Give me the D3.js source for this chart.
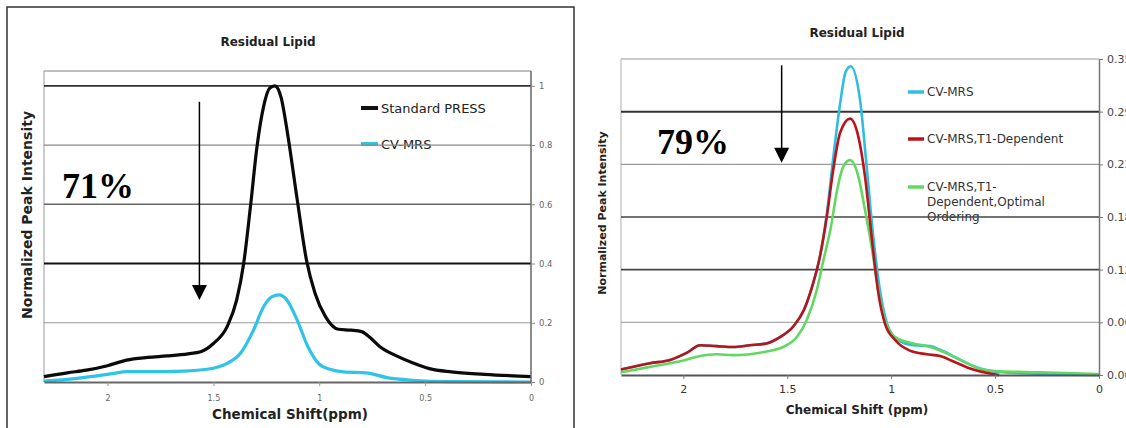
<!DOCTYPE html>
<html>
<head>
<meta charset="utf-8">
<script src="https://cdn.jsdelivr.net/npm/d3@7"></script>
<style>
  body { margin: 0; background: #fff; }
  svg { display: block; }
  text { font-family: "DejaVu Sans", Verdana, sans-serif; }
</style>
</head>
<body>
<svg id="charts" width="1126" height="428"></svg>
<script>
/* ---- left panel data (normalized) ---- */
const pressPpm = [2.30, 2.19, 2.10, 2.00, 1.91, 1.81, 1.72, 1.62, 1.56, 1.50, 1.435, 1.39, 1.357, 1.325, 1.294, 1.263, 1.234, 1.21,
                  1.18, 1.15, 1.105, 1.06, 1.02, 0.97, 0.91, 0.85, 0.80, 0.76, 0.715, 0.65, 0.56, 0.48, 0.376, 0.22, 0.0];
const pressVal = [0.018, 0.031, 0.040, 0.055, 0.074, 0.083, 0.088, 0.095, 0.102, 0.130, 0.187, 0.277, 0.40, 0.592, 0.795, 0.93, 0.992, 1.0,
                  0.96, 0.84, 0.62, 0.41, 0.30, 0.22, 0.178, 0.175, 0.170, 0.150, 0.12, 0.093, 0.065, 0.045, 0.034, 0.026, 0.018];

const cvPpmL = [2.30, 2.19, 2.06, 1.97, 1.91, 1.80, 1.64, 1.53, 1.435, 1.372, 1.31, 1.263, 1.223, 1.19,
                1.156, 1.105, 1.054, 1.0, 0.95, 0.885, 0.78, 0.68, 0.56, 0.39, 0.0];
const cvValL = [0.003, 0.009, 0.020, 0.029, 0.035, 0.035, 0.037, 0.043, 0.063, 0.097, 0.176, 0.254, 0.288, 0.294,
                0.280, 0.210, 0.120, 0.060, 0.043, 0.034, 0.031, 0.015, 0.006, 0.001, 0.0];

const yTicksL = [0, 0.2, 0.4, 0.6, 0.8, 1];
const yLabelsL = ["0", "0.2", "0.4", "0.6", "0.8", "1"];

/* ---- shared x ticks ---- */
const xTicks = [2, 1.5, 1, 0.5, 0];
const xLabels = ["2", "1.5", "1", "0.5", "0"];

/* ---- right panel data ---- */
const cvPpmR = [2.30, 2.16, 2.06, 1.98, 1.92, 1.84, 1.76, 1.68, 1.60, 1.535, 1.47, 1.42, 1.375, 1.343, 1.31, 1.279, 1.246, 1.22, 1.195,
                1.15, 1.118, 1.086, 1.054, 1.02, 0.974, 0.894, 0.813, 0.765, 0.685, 0.605, 0.509, 0.365, 0.0];
const cvValR = [0.006, 0.013, 0.017, 0.025, 0.033, 0.032, 0.031, 0.033, 0.035, 0.042, 0.054, 0.072, 0.102, 0.131, 0.178, 0.240, 0.300, 0.335, 0.342,
                0.305, 0.231, 0.153, 0.094, 0.057, 0.040, 0.033, 0.032, 0.028, 0.019, 0.010, 0.004, 0.002, 0.0];

const t1PpmR = [2.30, 2.16, 2.06, 1.98, 1.92, 1.84, 1.76, 1.68, 1.60, 1.535, 1.47, 1.42, 1.375, 1.343, 1.31, 1.279, 1.246, 1.198,
                1.158, 1.126, 1.094, 1.062, 1.03, 0.982, 0.91, 0.83, 0.765, 0.70, 0.605, 0.509, 0.48];
const t1ValR = [0.006, 0.013, 0.017, 0.025, 0.033, 0.032, 0.031, 0.033, 0.035, 0.042, 0.054, 0.072, 0.102, 0.131, 0.175, 0.227, 0.268, 0.284,
                0.264, 0.220, 0.153, 0.091, 0.057, 0.039, 0.027, 0.023, 0.021, 0.015, 0.006, 0.001, 0.0];

const optPpmR = [2.30, 2.16, 2.00, 1.92, 1.84, 1.76, 1.68, 1.60, 1.52, 1.454, 1.406, 1.358, 1.326, 1.29, 1.26, 1.23, 1.198,
                 1.158, 1.126, 1.094, 1.062, 1.03, 0.982, 0.894, 0.813, 0.733, 0.653, 0.573, 0.476, 0.284, 0.0];
const optValR = [0.003, 0.009, 0.016, 0.021, 0.023, 0.022, 0.023, 0.026, 0.031, 0.042, 0.061, 0.094, 0.127, 0.164, 0.205, 0.231, 0.238,
                 0.220, 0.183, 0.142, 0.094, 0.061, 0.042, 0.035, 0.031, 0.024, 0.015, 0.007, 0.004, 0.003, 0.001];

const yTicksR = [0, 0.0583, 0.1167, 0.175, 0.2333, 0.2917, 0.35];
const yLabelsR = ["0.00", "0.06", "0.12", "0.18", "0.23", "0.29", "0.35"];

const svg = d3.select("#charts");

function pairs(ppm, vals) {
    return ppm.map((p, i) => [p, vals[i]]);
}

function createLeftChart() {
    let g = svg.append("g").attr("id", "left");

    /* outer border */
    g.append("path")
        .attr("d", "M7,430 L7,7 L574,7 L574,430")
        .attr("fill", "none")
        .attr("stroke", "#333")
        .attr("stroke-width", 1.5);

    let xScale = d3.scaleLinear().domain([2.3, 0]).range([44, 531]);
    let yScale = d3.scaleLinear().domain([0, 1.05]).range([382, 71]);

    g.append("text")
        .attr("x", 268).attr("y", 42)
        .attr("text-anchor", "middle").attr("dy", "0.35em")
        .style("font-size", "12px").style("font-weight", "bold").style("fill", "#222")
        .text("Residual Lipid");

    /* legend first so grid runs over it, like the original */
    let legend = [["Standard PRESS", "#111"], ["CV-MRS", "#2fc3e6"]];
    legend.forEach((d, i) => {
        let ly = 108 + i * 36;
        g.append("line").attr("x1", 361).attr("x2", 378).attr("y1", ly).attr("y2", ly)
            .attr("stroke", d[1]).attr("stroke-width", 4);
        g.append("text").attr("x", 381).attr("y", ly).attr("dy", "0.35em")
            .style("font-size", "13px").style("fill", "#222").text(d[0]);
    });

    /* frame */
    g.append("line")
        .attr("x1", xScale(2.3)).attr("x2", xScale(0))
        .attr("y1", yScale(1.05)).attr("y2", yScale(1.05))
        .attr("stroke", "#aaa").attr("stroke-width", 1.5);
    g.append("line")
        .attr("x1", xScale(2.3)).attr("x2", xScale(2.3))
        .attr("y1", yScale(1.05)).attr("y2", yScale(0))
        .attr("stroke", "#aaa").attr("stroke-width", 1.2);

    /* grid */
    let gridColor = ["none", "#999", "#111", "#666", "#888", "#333"];
    let gridWidth = [0, 1.2, 2, 1.5, 1.2, 1.8];
    g.append("g").selectAll("line")
        .data(yTicksL)
        .join("line")
        .attr("x1", xScale(2.3)).attr("x2", xScale(0))
        .attr("y1", d => yScale(d)).attr("y2", d => yScale(d))
        .attr("stroke", (d, i) => gridColor[i])
        .attr("stroke-width", (d, i) => gridWidth[i]);

    /* curves */
    let line = d3.line()
        .x(d => xScale(d[0]))
        .y(d => yScale(d[1]))
        .curve(d3.curveMonotoneX);

    g.append("path").datum(pairs(cvPpmL, cvValL))
        .attr("d", line).attr("fill", "none")
        .attr("stroke", "#2fc3e6").attr("stroke-width", 3.2);
    g.append("path").datum(pairs(pressPpm, pressVal))
        .attr("d", line).attr("fill", "none")
        .attr("stroke", "#0a0a0a").attr("stroke-width", 3.2);

    /* axes */
    let axisY = g.append("g")
        .attr("transform", "translate(" + xScale(0) + ",0)")
        .call(d3.axisRight(yScale).tickValues(yTicksL).tickFormat((d, i) => yLabelsL[i])
            .tickSize(4).tickSizeOuter(0).tickPadding(4));
    axisY.select(".domain").attr("stroke", "#666").attr("stroke-width", 1.5)
        .attr("d", "M0," + yScale(1.05) + "V" + yScale(0));
    axisY.selectAll(".tick line").attr("stroke", "#888");
    axisY.selectAll("text").style("font-size", "8.5px").style("fill", "#666");

    let axisX = g.append("g")
        .attr("transform", "translate(0," + yScale(0) + ")")
        .call(d3.axisBottom(xScale).tickValues(xTicks).tickFormat((d, i) => xLabels[i])
            .tickSize(4).tickSizeOuter(0).tickPadding(9));
    axisX.select(".domain").attr("stroke", "#666").attr("stroke-width", 2);
    axisX.selectAll(".tick line").attr("stroke", "#999");
    axisX.selectAll("text").style("font-size", "8px").style("fill", "#666");

    g.append("text")
        .attr("x", 290).attr("y", 414).attr("dy", "0.35em")
        .attr("text-anchor", "middle")
        .style("font-size", "13.5px").style("font-weight", "bold").style("fill", "#222")
        .text("Chemical Shift(ppm)");

    g.append("text")
        .attr("transform", "translate(27,215) rotate(-90)")
        .attr("text-anchor", "middle").attr("dy", "0.35em")
        .style("font-size", "14px").style("font-weight", "bold").style("fill", "#222")
        .text("Normalized Peak Intensity");

    /* annotation */
    g.append("text")
        .attr("x", 62).attr("y", 198)
        .style("font-family", "'Liberation Serif', 'Times New Roman', serif")
        .style("font-size", "36px").style("font-weight", "bold").style("fill", "#000")
        .text("71%");
    drawArrow(g, xScale(1.566), yScale(0.946), yScale(0.277));
}

function drawArrow(g, x, yTop, yTip) {
    g.append("line")
        .attr("x1", x).attr("x2", x).attr("y1", yTop).attr("y2", yTip - 12)
        .attr("stroke", "#000").attr("stroke-width", 1.5);
    g.append("path")
        .attr("d", "M" + (x - 7.5) + "," + (yTip - 15) + " L" + (x + 7.5) + "," + (yTip - 15) + " L" + x + "," + yTip + " Z")
        .attr("fill", "#000");
}

function createRightChart() {
    let g = svg.append("g").attr("id", "right");

    let xScale = d3.scaleLinear().domain([2.3, 0]).range([621, 1099]);
    let yScale = d3.scaleLinear().domain([0, 0.35]).range([375, 59]);

    g.append("text")
        .attr("x", 857).attr("y", 33)
        .attr("text-anchor", "middle").attr("dy", "0.35em")
        .style("font-size", "12px").style("font-weight", "bold").style("fill", "#222")
        .text("Residual Lipid");

    /* legend */
    let legend = [[["CV-MRS"], "#2fbde0"],
                  [["CV-MRS,T1-Dependent"], "#b8141c"],
                  [["CV-MRS,T1-", "Dependent,Optimal", "Ordering"], "#62d862"]];
    let legendY = [92, 139, 187];
    legend.forEach((d, i) => {
        let ly = legendY[i];
        g.append("line").attr("x1", 908).attr("x2", 924).attr("y1", ly).attr("y2", ly)
            .attr("stroke", d[1]).attr("stroke-width", 3.5);
        d[0].forEach((t, j) => {
            g.append("text").attr("x", 927).attr("y", ly + j * 15).attr("dy", "0.35em")
                .style("font-size", "12px").style("fill", "#333").text(t);
        });
    });

    /* frame */
    g.append("line")
        .attr("x1", xScale(2.3)).attr("x2", xScale(2.3))
        .attr("y1", yScale(0.35)).attr("y2", yScale(0))
        .attr("stroke", "#bbb").attr("stroke-width", 1.2);

    /* grid */
    let gridColor = ["none", "#aaa", "#444", "#444", "#999", "#333", "#bbb"];
    let gridWidth = [0, 1.2, 1.6, 1.6, 1.2, 2, 1.5];
    g.append("g").selectAll("line")
        .data(yTicksR)
        .join("line")
        .attr("x1", xScale(2.3)).attr("x2", xScale(0))
        .attr("y1", d => yScale(d)).attr("y2", d => yScale(d))
        .attr("stroke", (d, i) => gridColor[i])
        .attr("stroke-width", (d, i) => gridWidth[i]);

    let line = d3.line()
        .x(d => xScale(d[0]))
        .y(d => yScale(d[1]))
        .curve(d3.curveMonotoneX);

    g.append("path").datum(pairs(cvPpmR, cvValR))
        .attr("d", line).attr("fill", "none")
        .attr("stroke", "#2fbde0").attr("stroke-width", 2.6);
    g.append("path").datum(pairs(optPpmR, optValR))
        .attr("d", line).attr("fill", "none")
        .attr("stroke", "#62d862").attr("stroke-width", 2.6);
    g.append("path").datum(pairs(t1PpmR, t1ValR))
        .attr("d", line).attr("fill", "none")
        .attr("stroke", "#b8141c").attr("stroke-width", 2.6);

    /* axes */
    let axisY = g.append("g")
        .attr("transform", "translate(" + xScale(0) + ",0)")
        .call(d3.axisRight(yScale).tickValues(yTicksR).tickFormat((d, i) => yLabelsR[i])
            .tickSize(4).tickSizeOuter(0).tickPadding(4));
    axisY.select(".domain").attr("stroke", "#777").attr("stroke-width", 1.5);
    axisY.selectAll(".tick line").attr("stroke", "#777");
    axisY.selectAll("text").style("font-size", "11px").style("fill", "#444");

    let axisX = g.append("g")
        .attr("transform", "translate(0," + yScale(0) + ")")
        .call(d3.axisBottom(xScale).tickValues(xTicks).tickFormat((d, i) => xLabels[i])
            .tickSize(4).tickSizeOuter(0).tickPadding(6));
    axisX.select(".domain").attr("stroke", "#555").attr("stroke-width", 2);
    axisX.selectAll(".tick line").attr("stroke", "#777");
    axisX.selectAll("text").style("font-size", "11px").style("fill", "#333");

    g.append("text")
        .attr("x", 857).attr("y", 410).attr("dy", "0.35em")
        .attr("text-anchor", "middle")
        .style("font-size", "12px").style("font-weight", "bold").style("fill", "#222")
        .text("Chemical Shift (ppm)");

    g.append("text")
        .attr("transform", "translate(602,213) rotate(-90)")
        .attr("text-anchor", "middle").attr("dy", "0.35em")
        .style("font-size", "11px").style("font-weight", "bold").style("fill", "#222")
        .text("Normalized Peak Intensity");

    g.append("text")
        .attr("x", 657).attr("y", 154)
        .style("font-family", "'Liberation Serif', 'Times New Roman', serif")
        .style("font-size", "36px").style("font-weight", "bold").style("fill", "#000")
        .text("79%");
    drawArrow(g, xScale(1.527), yScale(0.343), yScale(0.235));
}

createLeftChart();
createRightChart();
</script>
</body>
</html>
